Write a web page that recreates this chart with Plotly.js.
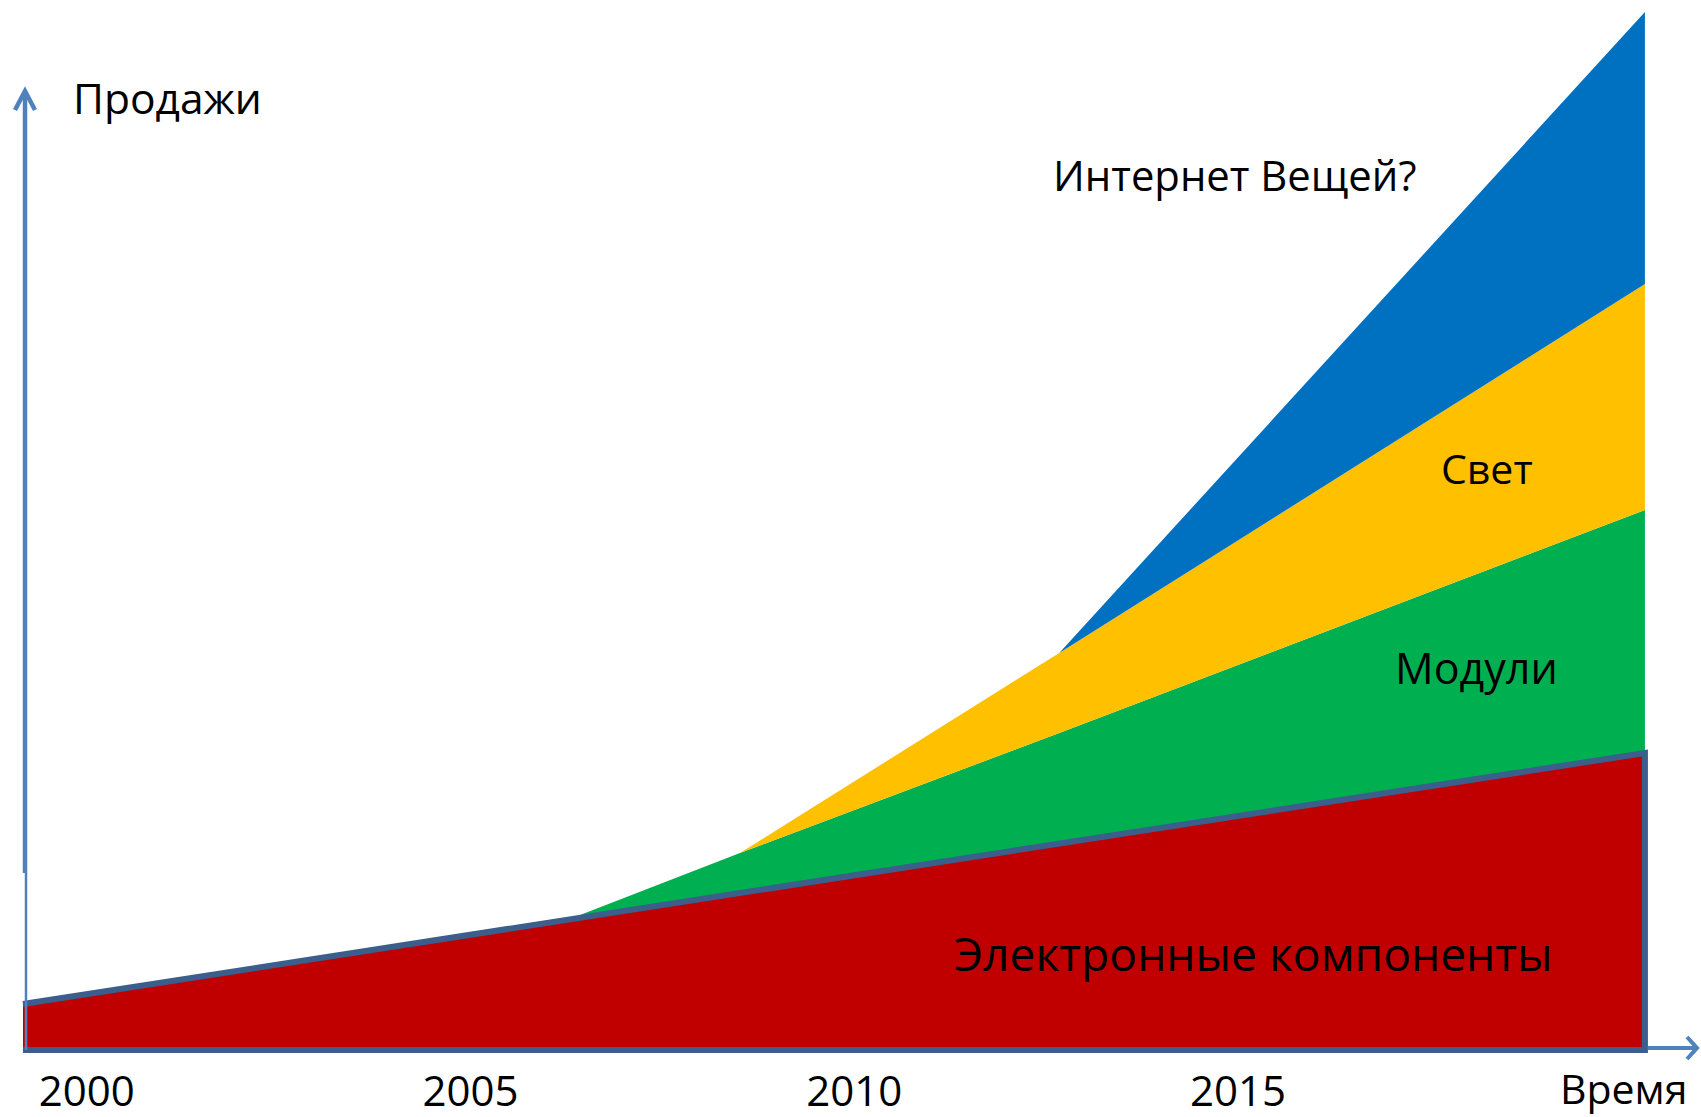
<!DOCTYPE html>
<html>
<head>
<meta charset="utf-8">
<script src="https://cdn.plot.ly/plotly-3.0.1.min.js"></script>
<style>html,body{margin:0;padding:0;background:#fff;}#chart{width:1701px;height:1117px;}</style>
</head>
<body>
<div id="chart"></div>
<script>
// ---- data ----
const years = [1999.17, 2006.26, 2008.51, 2012.67, 2020.3];
const electronics = [46, 130, 156, 206, 297];   // Электронные компоненты
const modules     = [0, 0, 41, 111, 243];       // Модули
const light       = [0, 0, 0, 80, 226];         // Свет
const iot         = [0, 0, 0, 0, 272];          // Интернет Вещей?
const tickYears = [2000, 2005, 2010, 2015];
const tickLabels = ['2000', '2005', '2010', '2015'];
const seriesNames = ['Электронные компоненты', 'Модули', 'Свет', 'Интернет Вещей?'];

// ---- layout geometry ----
const W = 1701, Hh = 1117;
const L = 13, R = 0, T = 10, B = 61;
const plotW = W - L - R, plotH = Hh - T - B;
const pxPerYear = 76.76;
const x0 = 1999.04;
const yMin = -6, yMax = 1040;
const bottomPx = Hh - B;
const px2paperX = p => (p - L) / plotW;
const py2paperY = p => (bottomPx - p) / plotH;

const FONT = 'Open Sans, Liberation Sans, sans-serif';
const axisBlue = '#4F81BD';
const outline = '#3B5E8C';

const colors = ['#C00000', '#00B050', '#FFC000', '#0070C0'];
const vals = [electronics, modules, light, iot];

const traces = vals.map((v, i) => ({
  type: 'scatter', mode: 'lines', x: years, y: v, name: seriesNames[i],
  stackgroup: 'one', line: {width: 0, color: colors[i]}, fillcolor: colors[i],
  hoverinfo: 'skip', showlegend: false
}));
traces.push({
  type: 'scatter', mode: 'lines',
  x: years.concat([years[years.length - 1], years[0]]),
  y: electronics.concat([0, 0]),
  line: {color: outline, width: 6}, hoverinfo: 'skip', showlegend: false
});

function lbl(text, leftPx, midPx, size) {
  return {text, xref: 'paper', yref: 'paper', x: px2paperX(leftPx), y: py2paperY(midPx),
    xanchor: 'left', yanchor: 'middle', showarrow: false, borderpad: 0,
    font: {family: FONT, size, color: '#000'}};
}

const layout = {
  width: W, height: Hh,
  margin: {l: L, r: R, t: T, b: B, pad: 0},
  paper_bgcolor: '#fff', plot_bgcolor: '#fff',
  showlegend: false,
  xaxis: {range: [x0, x0 + plotW / pxPerYear], tickvals: tickYears, ticktext: tickLabels,
    showgrid: false, zeroline: false, showline: false, ticks: '',
    tickfont: {family: FONT, size: 42, color: '#000'}, ticklabelstandoff: 7, fixedrange: true},
  yaxis: {range: [yMin, yMax], visible: false, fixedrange: true},
  annotations: [
    lbl('Продажи', 72, 97, 42.5),
    lbl('Интернет Вещей?', 1052, 174, 41.8),
    lbl('Свет', 1440, 468, 41),
    lbl('Модули', 1394, 667, 43),
    lbl(seriesNames[0], 953, 953, 46.2),
    lbl('Время', 1559, 1088, 41)
  ],
  shapes: [
    {type: 'line', xref: 'paper', yref: 'paper', x0: px2paperX(26), x1: px2paperX(26),
      y0: py2paperY(1050), y1: py2paperY(873), line: {color: axisBlue, width: 2.5}},
    {type: 'line', xref: 'paper', yref: 'paper', x0: px2paperX(25), x1: px2paperX(25),
      y0: py2paperY(873), y1: py2paperY(91), line: {color: axisBlue, width: 4.5}},
    {type: 'path', xref: 'paper', yref: 'paper', xsizemode: 'pixel', ysizemode: 'pixel',
      xanchor: px2paperX(25), yanchor: py2paperY(91), path: 'M -10 -19 L 0 0 L 10 -19',
      line: {color: axisBlue, width: 4.5}},
    {type: 'line', xref: 'paper', yref: 'paper', x0: px2paperX(1648), x1: px2paperX(1697),
      y0: py2paperY(1048), y1: py2paperY(1048), line: {color: axisBlue, width: 4}},
    {type: 'path', xref: 'paper', yref: 'paper', xsizemode: 'pixel', ysizemode: 'pixel',
      xanchor: px2paperX(1697), yanchor: py2paperY(1048), path: 'M -10 11 L 0 0 L -10 -11',
      line: {color: axisBlue, width: 4}}
  ]
};

Plotly.newPlot('chart', traces, layout, {displayModeBar: false, staticPlot: true});
</script>
</body>
</html>
